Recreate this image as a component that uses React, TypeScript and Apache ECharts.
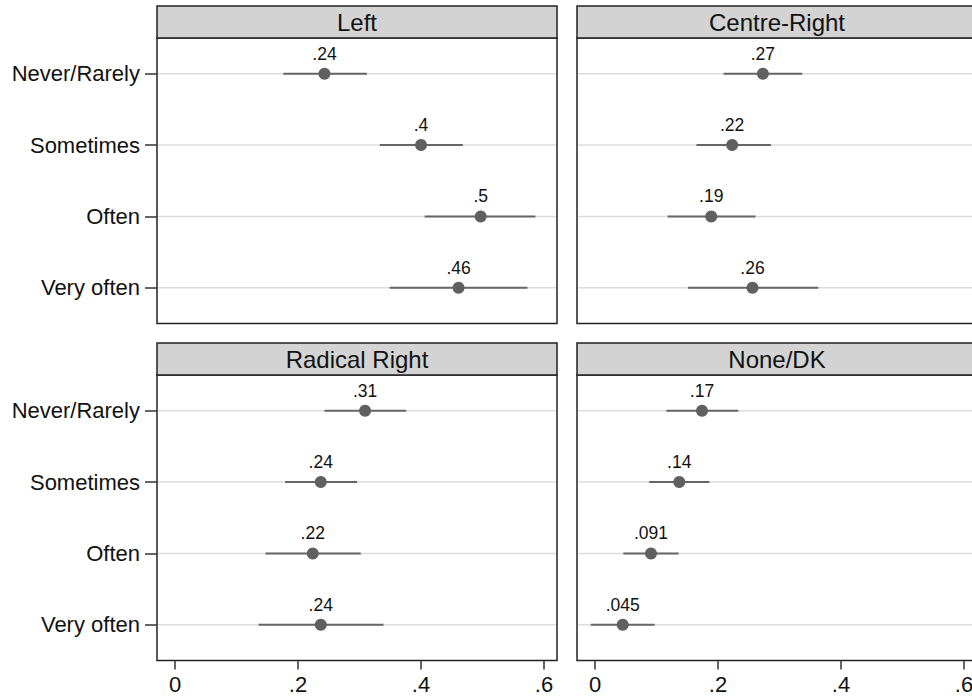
import React, { useEffect, useRef } from "react";
import * as echarts from "echarts";

const categories = ["Never/Rarely", "Sometimes", "Often", "Very often"];
const panelTitles = ["Left", "Centre-Right", "Radical Right", "None/DK"];
const xTicks = [0, 0.2, 0.4, 0.6];

const leftEst = [0.243, 0.4, 0.497, 0.461];
const leftLo = [0.176, 0.333, 0.406, 0.349];
const leftHi = [0.312, 0.468, 0.586, 0.573];

const crEst = [0.273, 0.223, 0.189, 0.256];
const crLo = [0.209, 0.165, 0.118, 0.151];
const crHi = [0.337, 0.286, 0.261, 0.363];

const rrEst = [0.309, 0.237, 0.224, 0.237];
const rrLo = [0.243, 0.179, 0.147, 0.136];
const rrHi = [0.376, 0.296, 0.302, 0.339];

const ndEst = [0.174, 0.137, 0.091, 0.045];
const ndLo = [0.116, 0.088, 0.046, -0.007];
const ndHi = [0.233, 0.186, 0.136, 0.097];

const FONT = "'Liberation Sans', Arial, Helvetica, sans-serif";

const fmt = (v: number) => {
  if (v === 0) return "0";
  const s = Number(v.toPrecision(2)).toString();
  return s.replace(/^0\./, ".").replace(/^-0\./, "-.");
};

export default function App() {
  const ref = useRef<HTMLDivElement>(null);

  useEffect(() => {
    if (!ref.current) return;
    const chart = echarts.init(ref.current, null, { renderer: "svg" });

    const panels = [
      { est: leftEst, lo: leftLo, hi: leftHi },
      { est: crEst, lo: crLo, hi: crHi },
      { est: rrEst, lo: rrLo, hi: rrHi },
      { est: ndEst, lo: ndLo, hi: ndHi },
    ];
    const layout = [
      { left: 157, top: 38, strip: 6 },
      { left: 577, top: 38, strip: 6 },
      { left: 157, top: 375, strip: 343 },
      { left: 577, top: 375, strip: 343 },
    ];
    const W = 400;
    const H = 285.5;

    const grids = layout.map((l) => ({
      left: l.left,
      top: l.top,
      width: W,
      height: H,
      show: true,
      backgroundColor: "#fff",
      borderColor: "#222",
      borderWidth: 1.5,
      containLabel: false,
      outerBoundsMode: "none",
    }));

    const xAxes = layout.map((_, i) => {
      const bottom = i >= 2;
      return {
        gridIndex: i,
        type: "value",
        position: "bottom",
        min: -0.0293,
        max: 0.6211,
        axisLine: { show: false, onZero: false },
        splitLine: { show: false },
        axisTick: {
          show: bottom,
          inside: false,
          length: 9,
          customValues: xTicks,
          lineStyle: { color: "#333", width: 1.5 },
        },
        axisLabel: {
          show: bottom,
          customValues: xTicks,
          formatter: (v: number) => fmt(v),
          fontSize: 22,
          color: "#111",
          margin: 13,
          fontFamily: FONT,
        },
      };
    });

    const yAxes = layout.map((_, i) => {
      const leftCol = i % 2 === 0;
      return {
        gridIndex: i,
        type: "category",
        position: "left",
        data: categories,
        inverse: true,
        boundaryGap: true,
        axisLine: { show: false, onZero: false },
        splitLine: { show: false },
        axisTick: {
          show: leftCol,
          alignWithLabel: true,
          length: 12,
          lineStyle: { color: "#333", width: 1.5 },
        },
        axisLabel: {
          show: leftCol,
          fontSize: 22,
          color: "#111",
          margin: 17,
          fontFamily: FONT,
        },
      };
    });

    const series: any[] = [];
    panels.forEach((p, i) => {
      series.push({
        type: "custom",
        xAxisIndex: i,
        yAxisIndex: i,
        z: 2,
        clip: false,
        data: categories.map((_, j) => [p.lo[j], p.hi[j], j]),
        encode: { x: [0, 1], y: 2 },
        renderItem: (params: any, api: any) => {
          const a = api.coord([api.value(0), api.value(2)]);
          const b = api.coord([api.value(1), api.value(2)]);
          const cs = params.coordSys;
          return {
            type: "group",
            children: [
              {
                type: "line",
                shape: { x1: cs.x + 1, y1: a[1], x2: cs.x + cs.width - 1, y2: a[1] },
                style: { stroke: "#dcdcdc", lineWidth: 1.5 },
              },
              {
                type: "line",
                shape: { x1: a[0], y1: a[1], x2: b[0], y2: b[1] },
                style: { stroke: "#666666", lineWidth: 2 },
              },
            ],
          };
        },
      });
      series.push({
        type: "scatter",
        xAxisIndex: i,
        yAxisIndex: i,
        z: 3,
        symbol: "circle",
        symbolSize: 12,
        itemStyle: { color: "#606060", opacity: 1 },
        data: p.est.map((v, j) => [v, j]),
        label: {
          show: true,
          position: "top",
          distance: 5,
          formatter: (q: any) => fmt(q.value[0]),
          fontSize: 17.5,
          color: "#111",
          fontFamily: FONT,
        },
      });
    });

    const graphics: any[] = [];
    layout.forEach((l, i) => {
      graphics.push({
        type: "rect",
        shape: { x: l.left, y: l.strip, width: W, height: 32 },
        style: { fill: "#d3d3d3", stroke: "#222", lineWidth: 1.5 },
        z: 10,
      });
      graphics.push({
        type: "text",
        x: l.left + W / 2,
        y: l.strip + 16.5,
        style: {
          text: panelTitles[i],
          textAlign: "center",
          textVerticalAlign: "middle",
          fontSize: 24,
          fill: "#111",
          fontFamily: FONT,
        },
        z: 11,
      });
    });

    chart.setOption({
      animation: false,
      backgroundColor: "#fff",
      textStyle: { fontFamily: FONT },
      grid: grids,
      xAxis: xAxes,
      yAxis: yAxes,
      series,
      graphic: graphics,
    } as any);

    return () => chart.dispose();
  }, []);

  return (
    <div
      ref={ref}
      style={{ position: "absolute", left: 0, top: 0, width: 972, height: 700 }}
    />
  );
}
